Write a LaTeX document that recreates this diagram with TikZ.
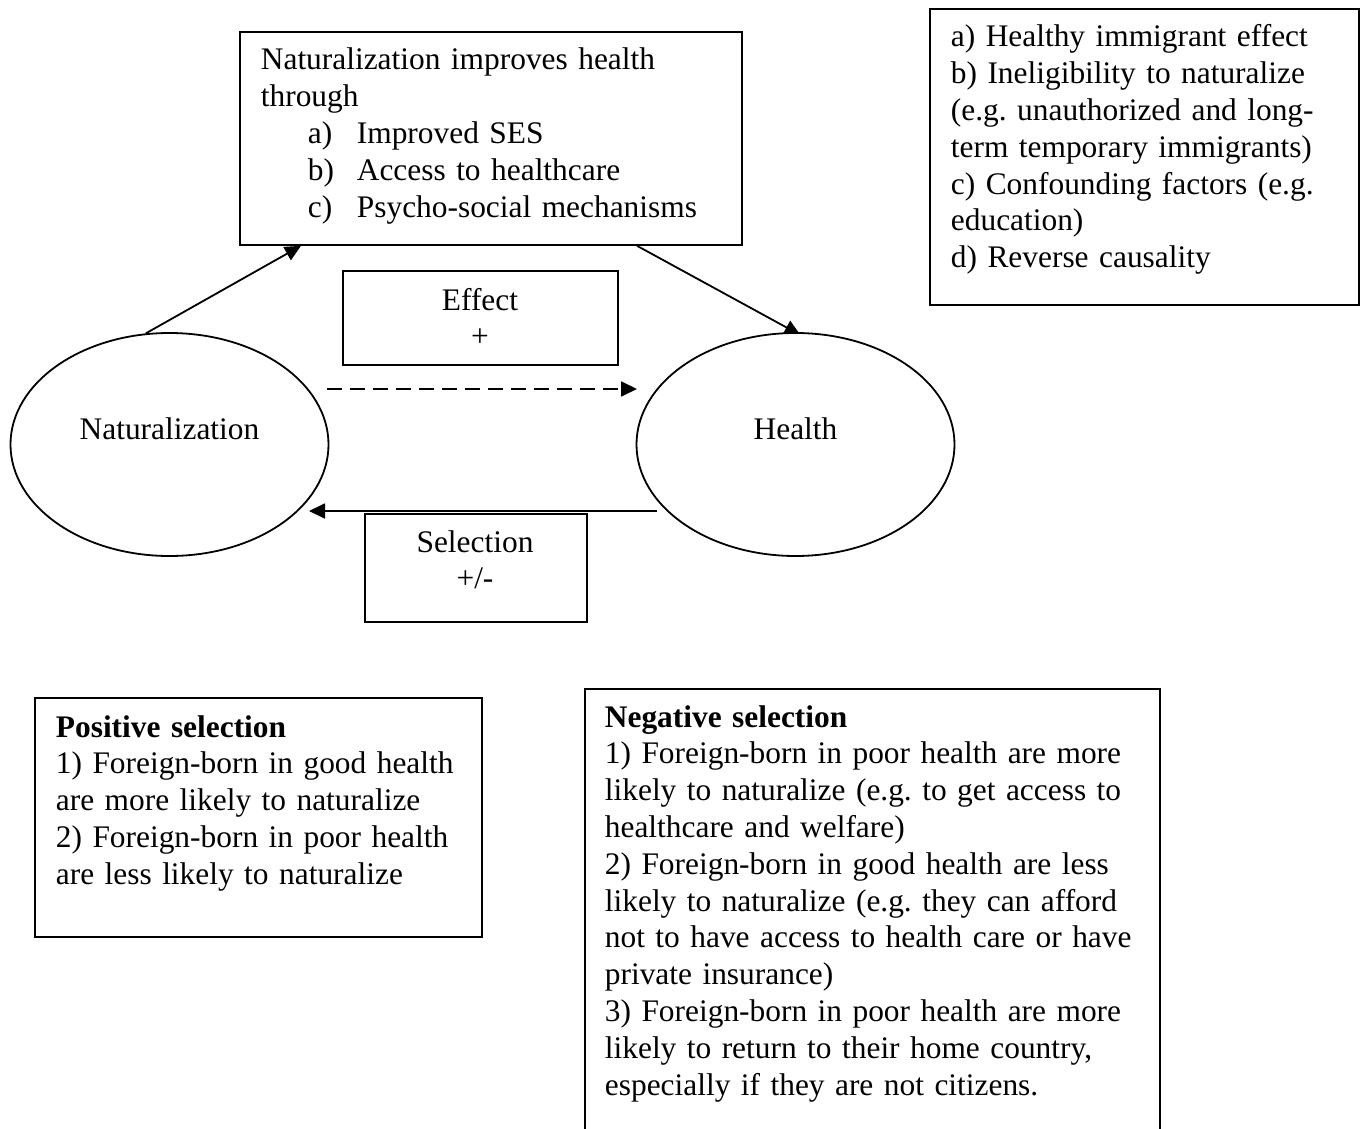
\documentclass[tikz,border=0pt]{standalone}
\usepackage{fontspec}
\setmainfont{Liberation Serif}
\usetikzlibrary{arrows.meta,shapes.geometric,backgrounds}
\begin{document}
\frenchspacing
\begin{tikzpicture}[x=1pt,y=-1pt, line width=1.8pt,
  boxst/.style={draw, line width=1.8pt, rectangle, inner sep=0pt, fill=white, anchor=north west},
  ellst/.style={draw, line width=1.8pt, ellipse, inner sep=0pt, fill=white, minimum width=318pt, minimum height=223pt,
                text height=22pt, text depth=33pt, font=\fontsize{31.4}{36.8}\selectfont},
  txt/.style={inner sep=0pt, font=\fontsize{31.4}{36.8}\selectfont, align=left, text width=#1, anchor=base west},
  txt/.default=560pt,
  ctxt/.style={inner sep=0pt, font=\fontsize{31.4}{36.8}\selectfont, align=center, text width=#1, anchor=base},
  ctxt/.default=200pt,
  arr/.style={line width=1.8pt, -{Triangle[length=16pt,width=15pt]}},
  dasharr/.style={arr, dash pattern=on 15pt off 8pt}
]
\useasboundingbox (0,0) rectangle (1363,1129);
\clip (0,0) rectangle (1363,1129);

% top mechanism box
\node[boxst, minimum width=502pt, minimum height=213pt] (topbox) at (239,31) {};
\node[txt] (toptext) at (260,70) {Naturalization improves health\\
through\\
\hspace*{47pt}\makebox[49pt][l]{a)}Improved SES\\
\hspace*{47pt}\makebox[49pt][l]{b)}Access to healthcare\\
\hspace*{47pt}\makebox[49pt][l]{c)}Psycho-social mechanisms};

% right box
\node[boxst, minimum width=429pt, minimum height=296pt] (rbox) at (929,8) {};
\node[txt] (rtext) at (950,47) {a) Healthy immigrant effect\\
b) Ineligibility to naturalize\\
(e.g. unauthorized and long-\\
term temporary immigrants)\\
c) Confounding factors (e.g.\\
education)\\
d) Reverse causality};

% effect box
\node[boxst, minimum width=275pt, minimum height=94pt] (effbox) at (342,270) {};
\node[ctxt] (efftext) at (480,310) {Effect\\+};

% selection box
\node[boxst, minimum width=222pt, minimum height=108pt] (selbox) at (364,513) {};
\node[ctxt] (seltext) at (475,552) {Selection\\+/-};

% ellipses
\node[ellst] (nat) at (169.5,444.5) {Naturalization};
\node[ellst] (health) at (795.5,444.5) {Health};

% positive selection
\node[boxst, minimum width=447pt, minimum height=239pt] (posbox) at (34,697) {};
\node[txt] (postext) at (55,737) {\textbf{Positive selection}\\
1) Foreign-born in good health\\
are more likely to naturalize\\
2) Foreign-born in poor health\\
are less likely to naturalize};

% negative selection
\node[boxst, minimum width=575pt, minimum height=470pt] (negbox) at (584,688) {};
\node[txt] (negtext) at (604,727) {\textbf{Negative selection}\\
1) Foreign-born in poor health are more\\
likely to naturalize (e.g. to get access to\\
healthcare and welfare)\\
2) Foreign-born in good health are less\\
likely to naturalize (e.g. they can afford\\
not to have access to health care or have\\
private insurance)\\
3) Foreign-born in poor health are more\\
likely to return to their home country,\\
especially if they are not citizens.};

% connectors
\coordinate (dashL) at (327,389);
\coordinate (dashR) at (637,389);
\coordinate (selR) at (657,511);
\coordinate (selL) at (309,511);

\begin{pgfonlayer}{background}
\draw[arr] (nat.102) -- ([xshift=62pt]topbox.south west);
\draw[arr] ([xshift=398pt]topbox.south west) -- ([shift={(5,3)}]health.north);
\end{pgfonlayer}
\draw[dasharr] (dashL) -- (dashR);
\draw[arr] (selR) -- (selL);
\end{tikzpicture}
\end{document}
